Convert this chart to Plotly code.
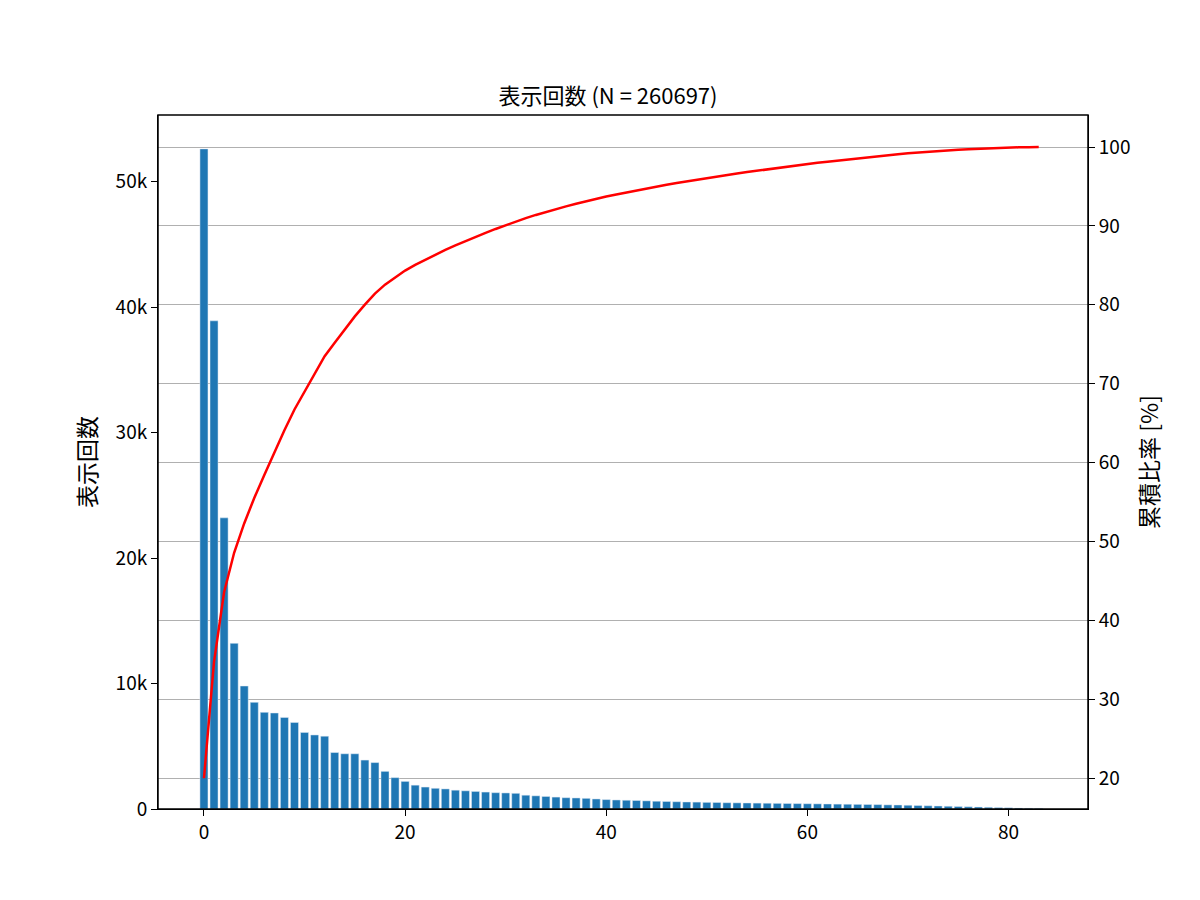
import plotly.graph_objects as go
import numpy as np

ranks = list(range(84))
counts = [52600,38900,23200,13200,9800,8500,7700,7650,7300,6900,6100,5900,5800,4500,4400,4400,3900,3700,3000,2500,2200,
          1900,1750,1650,1600,1500,1450,1400,1350,1300,1280,1250,1100,1050,1000,950,900,880,850,800,750,
          720,700,680,650,620,600,580,560,550,530,520,500,490,480,470,460,450,440,430,420,
          410,400,390,380,370,360,350,330,320,300,280,260,240,220,200,180,160,140,120,100,80,60,50]
title_text = "表示回数 (N = 260697)"

cum = np.cumsum(counts) / np.sum(counts) * 100

font = dict(family="Noto Sans CJK JP, sans-serif", size=19, color="black")
fig = go.Figure()
fig.add_trace(go.Bar(x=ranks, y=counts, marker_color="#1f77b4", width=0.8, yaxis="y"))
fig.add_trace(go.Scatter(x=ranks, y=cum, mode="lines", line=dict(color="red", width=2.5), yaxis="y2"))
ax = dict(showline=True, linecolor="black", ticks="outside", ticklen=6, tickcolor="black", zeroline=False)
fig.update_layout(
    width=1200, height=900, paper_bgcolor="white", plot_bgcolor="white", showlegend=False, font=font,
    margin=dict(l=150, r=120, t=107, b=99),
    title=dict(text=title_text, x=0.5, y=0.91, xanchor="center", font=dict(size=22)),
    xaxis=dict(range=[-4.57, 87.9], tickvals=[0,20,40,60,80], showgrid=False, **ax),
    yaxis=dict(range=[0, 55300], tickvals=[0,10000,20000,30000,40000,50000], showgrid=False,
               title=dict(text="表示回数", standoff=12), **ax),
    yaxis2=dict(range=[16.07, 104.06], tickvals=[20,30,40,50,60,70,80,90,100], overlaying="y", side="right",
                showgrid=True, gridcolor="#b0b0b0", gridwidth=1.2, title=dict(text="累積比率 [%]", standoff=12), **ax),
    bargap=0.2,
)
fig.add_shape(type="rect", xref="paper", yref="paper", x0=0, y0=0, x1=1, y1=1, line=dict(color="black", width=1.5))
fig.write_html("out.html")
